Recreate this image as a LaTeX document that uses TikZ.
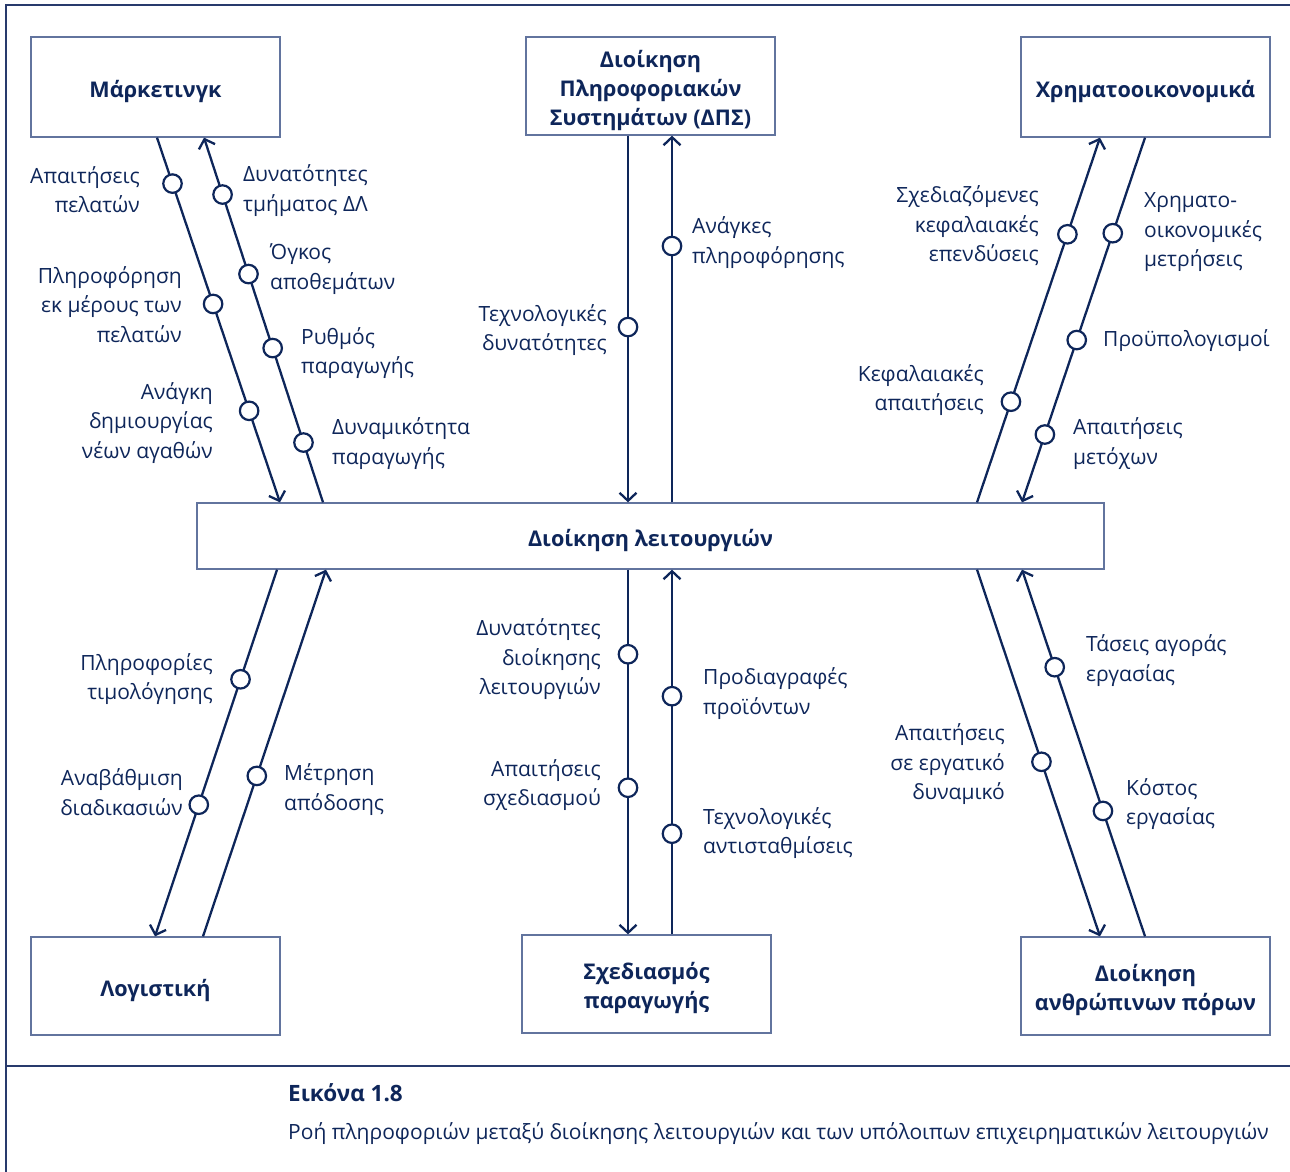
\documentclass[tikz,border=0pt]{standalone}
\usepackage{fontspec}
\setmainfont{Open Sans}
\usetikzlibrary{arrows.meta}
\definecolor{navy}{RGB}{14,38,90}
\definecolor{boxline}{RGB}{98,116,158}
\definecolor{frameline}{RGB}{40,58,108}
\newcommand{\lblfont}{\fontsize{21}{29.5}\selectfont}
\newcommand{\boxfont}{\fontsize{21.6}{29}\selectfont\bfseries}
\begin{document}
\begin{tikzpicture}[x=1pt,y=-1pt,
  box/.style={draw=boxline, line width=1.3pt, fill=white, minimum width=249pt, minimum height=100pt, inner sep=0pt},
  boxtext/.style={align=center, text=navy, font=\boxfont, inner sep=0pt, yshift=-4pt},
  flow/.style={draw=navy, line width=2.3pt, -{Straight Barb[length=8pt,width=17pt]}},
  dot/.style={circle, draw=navy, fill=white, line width=2.2pt, minimum size=18.5pt, inner sep=0pt},
  lr/.style={anchor=east, align=right, inner sep=0pt, text=navy, font=\lblfont},
  ll/.style={anchor=west, align=left, inner sep=0pt, text=navy, font=\lblfont}]
\useasboundingbox (0,0) rectangle (1290,1172);
% frame
\draw[frameline, line width=1.5pt] (6,1172) -- (6,5) -- (1290,5);
\draw[frameline, line width=1.5pt] (6,1066) -- (1290,1066);

% boxes
\node[box, label={[boxtext]center:{Μάρκετινγκ}}] (mk) at (155.5,87) {};
\node[box, minimum height=98pt, label={[boxtext]center:{Διοίκηση\\Πληροφοριακών\\Συστημάτων (ΔΠΣ)}}] (dps) at (650.5,86) {};
\node[box, label={[boxtext]center:{Χρηματοοικονομικά}}] (fin) at (1145.5,87) {};
\node[box, minimum width=907pt, minimum height=66pt, label={[boxtext]center:{Διοίκηση λειτουργιών}}] (ops) at (650.5,536) {};
\node[box, minimum height=98pt, label={[boxtext]center:{Λογιστική}}] (acc) at (155.5,986) {};
\node[box, minimum height=98pt, label={[boxtext]center:{Σχεδιασμός\\παραγωγής}}] (prod) at (646.5,984) {};
\node[box, minimum height=98pt, label={[boxtext]center:{Διοίκηση\\ανθρώπινων πόρων}}] (hr) at (1145.5,986) {};

% Marketing connectors
\draw[flow] (157,0 |- mk.south) -- (280,0 |- ops.north)
  node[dot,pos=.126]{} node[dot,pos=.456]{} node[dot,pos=.749]{};
\draw[flow] (323,0 |- ops.north) -- (204,0 |- mk.south)
  node[dot,pos=.164]{} node[dot,pos=.423]{} node[dot,pos=.626]{} node[dot,pos=.844]{};
% DPS connectors
\draw[flow] (628,0 |- dps.south) -- (628,0 |- ops.north) node[dot,pos=.522]{};
\draw[flow] (672,0 |- ops.north) -- (672,0 |- dps.south) node[dot,pos=.699]{};
% Finance connectors
\draw[flow] (977,0 |- ops.north) -- (1100,0 |- fin.south) node[dot,pos=.276]{} node[dot,pos=.735]{};
\draw[flow] (1145,0 |- fin.south) -- (1022,0 |- ops.north)
  node[dot,pos=.262]{} node[dot,pos=.555]{} node[dot,pos=.814]{};
% Accounting connectors
\draw[flow] (277,0 |- ops.south) -- (155,0 |- acc.north) node[dot,pos=.299]{} node[dot,pos=.641]{};
\draw[flow] (203,0 |- acc.north) -- (326,0 |- ops.south) node[dot,pos=.4375]{};
% Production design connectors
\draw[flow] (628,0 |- ops.south) -- (628,0 |- prod.north) node[dot,pos=.232]{} node[dot,pos=.598]{};
\draw[flow] (672,0 |- prod.north) -- (672,0 |- ops.south) node[dot,pos=.276]{} node[dot,pos=.653]{};
% HR connectors
\draw[flow] (977,0 |- ops.south) -- (1100,0 |- hr.north) node[dot,pos=.524]{};
\draw[flow] (1145,0 |- hr.north) -- (1022,0 |- ops.south) node[dot,pos=.342]{} node[dot,pos=.734]{};

% labels top-left
\node[lr] (l1) at (140,189.5) {Απαιτήσεις\\πελατών};
\node[ll] (l2) at (243,190.5) {Δυνατότητες\\τμήματος ΔΛ};
\node[ll] (l3) at (270,269) {Όγκος\\αποθεμάτων};
\node[lr] (l4) at (182,304.5) {Πληροφόρηση\\εκ μέρους των\\πελατών};
\node[ll] (l5) at (301,353) {Ρυθμός\\παραγωγής};
\node[lr] (l6) at (213,423) {Ανάγκη\\δημιουργίας\\νέων αγαθών};
\node[ll] (l7) at (332,443.5) {Δυναμικότητα\\παραγωγής};
% labels top-center
\node[lr] (l8) at (607,330) {Τεχνολογικές\\δυνατότητες};
\node[ll] (l9) at (692,242.5) {Ανάγκες\\πληροφόρησης};
% labels top-right
\node[lr] (l10) at (1039,226) {Σχεδιαζόμενες\\κεφαλαιακές\\επενδύσεις};
\node[ll] (l11) at (1144,232.5) {Χρηματο-\\οικονομικές\\μετρήσεις};
\node[ll] (l12) at (1103,341) {Προϋπολογισμοί};
\node[lr] (l13) at (984,390) {Κεφαλαιακές\\απαιτήσεις};
\node[ll] (l14) at (1073,443.5) {Απαιτήσεις\\μετόχων};
% labels bottom-left
\node[lr] (l15) at (213,679) {Πληροφορίες\\τιμολόγησης};
\node[lr] (l16) at (183,792) {Αναβάθμιση\\διαδικασιών};
\node[ll] (l17) at (284,789.5) {Μέτρηση\\απόδοσης};
% labels bottom-center
\node[lr] (l18) at (601,659.5) {Δυνατότητες\\διοίκησης\\λειτουργιών};
\node[lr] (l19) at (601,785) {Απαιτήσεις\\σχεδιασμού};
\node[ll] (l20) at (703,693.5) {Προδιαγραφές\\προϊόντων};
\node[ll] (l21) at (703,833) {Τεχνολογικές\\αντισταθμίσεις};
% labels bottom-right
\node[ll] (l22) at (1086,660.5) {Τάσεις αγοράς\\εργασίας};
\node[lr] (l23) at (1005,764.5) {Απαιτήσεις\\σε εργατικό\\δυναμικό};
\node[ll] (l24) at (1126,804) {Κόστος\\εργασίας};

% caption
\node[anchor=west, inner sep=0pt, text=navy, font=\fontsize{22.5}{25}\selectfont\bfseries] (cap1) at (288,1093) {Εικόνα 1.8};
\node[anchor=west, inner sep=0pt, text=navy, font=\fontsize{21}{25}\selectfont] (cap2) at (288,1134) {Ροή πληροφοριών μεταξύ διοίκησης λειτουργιών και των υπόλοιπων επιχειρηματικών λειτουργιών};
\end{tikzpicture}
\end{document}
